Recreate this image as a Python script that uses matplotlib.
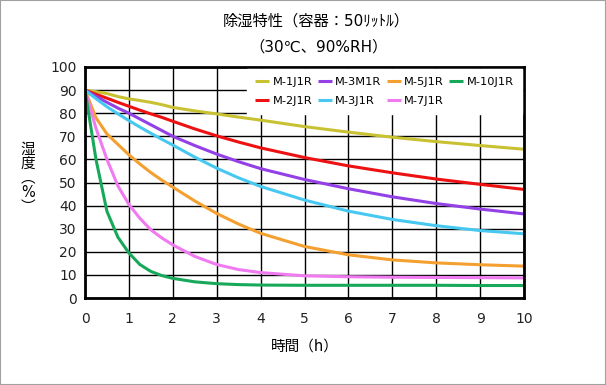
import matplotlib.pyplot as plt
from matplotlib.patches import Rectangle

plt.rcParams['font.family'] = ['DejaVu Sans', 'Noto Sans CJK JP']

hours = [0, 0.25, 0.5, 0.75, 1, 1.25, 1.5, 1.75, 2, 2.5, 3, 3.5, 4, 5, 6, 7, 8, 9, 10]

m_1j1r = [90, 89.3, 88.5, 87.2, 86.2, 85.5, 84.7, 83.7, 82.5, 81, 79.7, 78.3, 77, 74.2, 71.8, 69.6, 67.7, 66, 64.4]
m_2j1r = [90, 88.2, 86.5, 84.7, 83, 81.3, 79.7, 78.2, 76.5, 73.2, 70.2, 67.5, 65, 60.8, 57.2, 54.2, 51.5, 49.2, 47]
m_3m1r = [90, 87.3, 84.7, 82.2, 80, 77.5, 75, 72.5, 70, 66, 62.3, 59, 56, 51.3, 47.3, 43.8, 40.9, 38.5, 36.4]
m_3j1r = [90, 86.3, 82.8, 79.7, 76.8, 74, 71.3, 68.7, 66.2, 61, 56.2, 52, 48.3, 42.4, 37.6, 34, 31.3, 29.2, 27.8]
m_5j1r = [90, 78, 71, 66.5, 62, 58, 54.3, 51, 48, 42, 36.6, 32, 28, 22.3, 18.7, 16.5, 15.2, 14.4, 13.8]
m_7j1r = [90, 73.5, 60, 48.5, 40.5, 34.5, 29.5, 26, 23, 18, 14.5, 12.3, 11, 9.6, 9.2, 9, 8.9, 8.8, 8.7]
m_10j1r = [90, 60, 37.5, 26.3, 19.5, 14.5, 11.5, 9.7, 8.5, 7, 6.2, 5.8, 5.6, 5.5, 5.5, 5.5, 5.5, 5.4, 5.4]

# legend order (column-wise for ncol=4)
series = [
    ('M-1J1R', m_1j1r, '#C8C232'),
    ('M-2J1R', m_2j1r, '#EE1111'),
    ('M-3M1R', m_3m1r, '#9340E6'),
    ('M-3J1R', m_3j1r, '#46C8F0'),
    ('M-5J1R', m_5j1r, '#F4A030'),
    ('M-7J1R', m_7j1r, '#F07AF0'),
    ('M-10J1R', m_10j1r, '#18A85A'),
]

fig = plt.figure(figsize=(6.06, 3.85), dpi=100)
ax = fig.add_axes([85 / 606, 1 - 298 / 385, 439 / 606, 231 / 385])

for name, vals, col in series:
    ax.plot(hours, vals, color=col, lw=2.2, label=name, solid_capstyle='butt')

ax.set_xlim(0, 10)
ax.set_ylim(0, 100)
ax.set_xticks(range(0, 11))
ax.set_yticks(range(0, 101, 10))
ax.grid(True, color='black', lw=1)
ax.set_axisbelow(True)
ax.tick_params(length=0, labelsize=10, pad=6, colors='#222222')
ax.tick_params(axis='x', pad=10)
for s in ax.spines.values():
    s.set_linewidth(2)
    s.set_color('black')

ax.set_xlabel('時間（h）', fontsize=10.5, labelpad=9)
fig.text(28 / 606, 1 - 178 / 385, '湿\n度\n︵\n%\n︶', ha='center', va='center',
         fontsize=10.5, linespacing=0.95)

leg = ax.legend(ncol=4, loc='upper right', fontsize=8.2, frameon=True, fancybox=False,
                handlelength=1.25, handletextpad=0.3, columnspacing=0.45,
                borderaxespad=0.2, borderpad=0.7, labelspacing=0.78)
leg.get_frame().set_edgecolor('white')
leg.get_frame().set_alpha(1)

fig.text(316 / 606, 1 - 21 / 385, '除湿特性（容器：50ﾘｯﾄﾙ）', ha='center', va='center', fontsize=11)
fig.text(319 / 606, 1 - 47 / 385, '（30℃、90%RH）', ha='center', va='center', fontsize=11)

fig.patches.append(Rectangle((0, 0), 1, 1, transform=fig.transFigure, fill=False,
                             edgecolor='#A0A0A0', lw=1.5))

fig.savefig('out.png', dpi=100)
